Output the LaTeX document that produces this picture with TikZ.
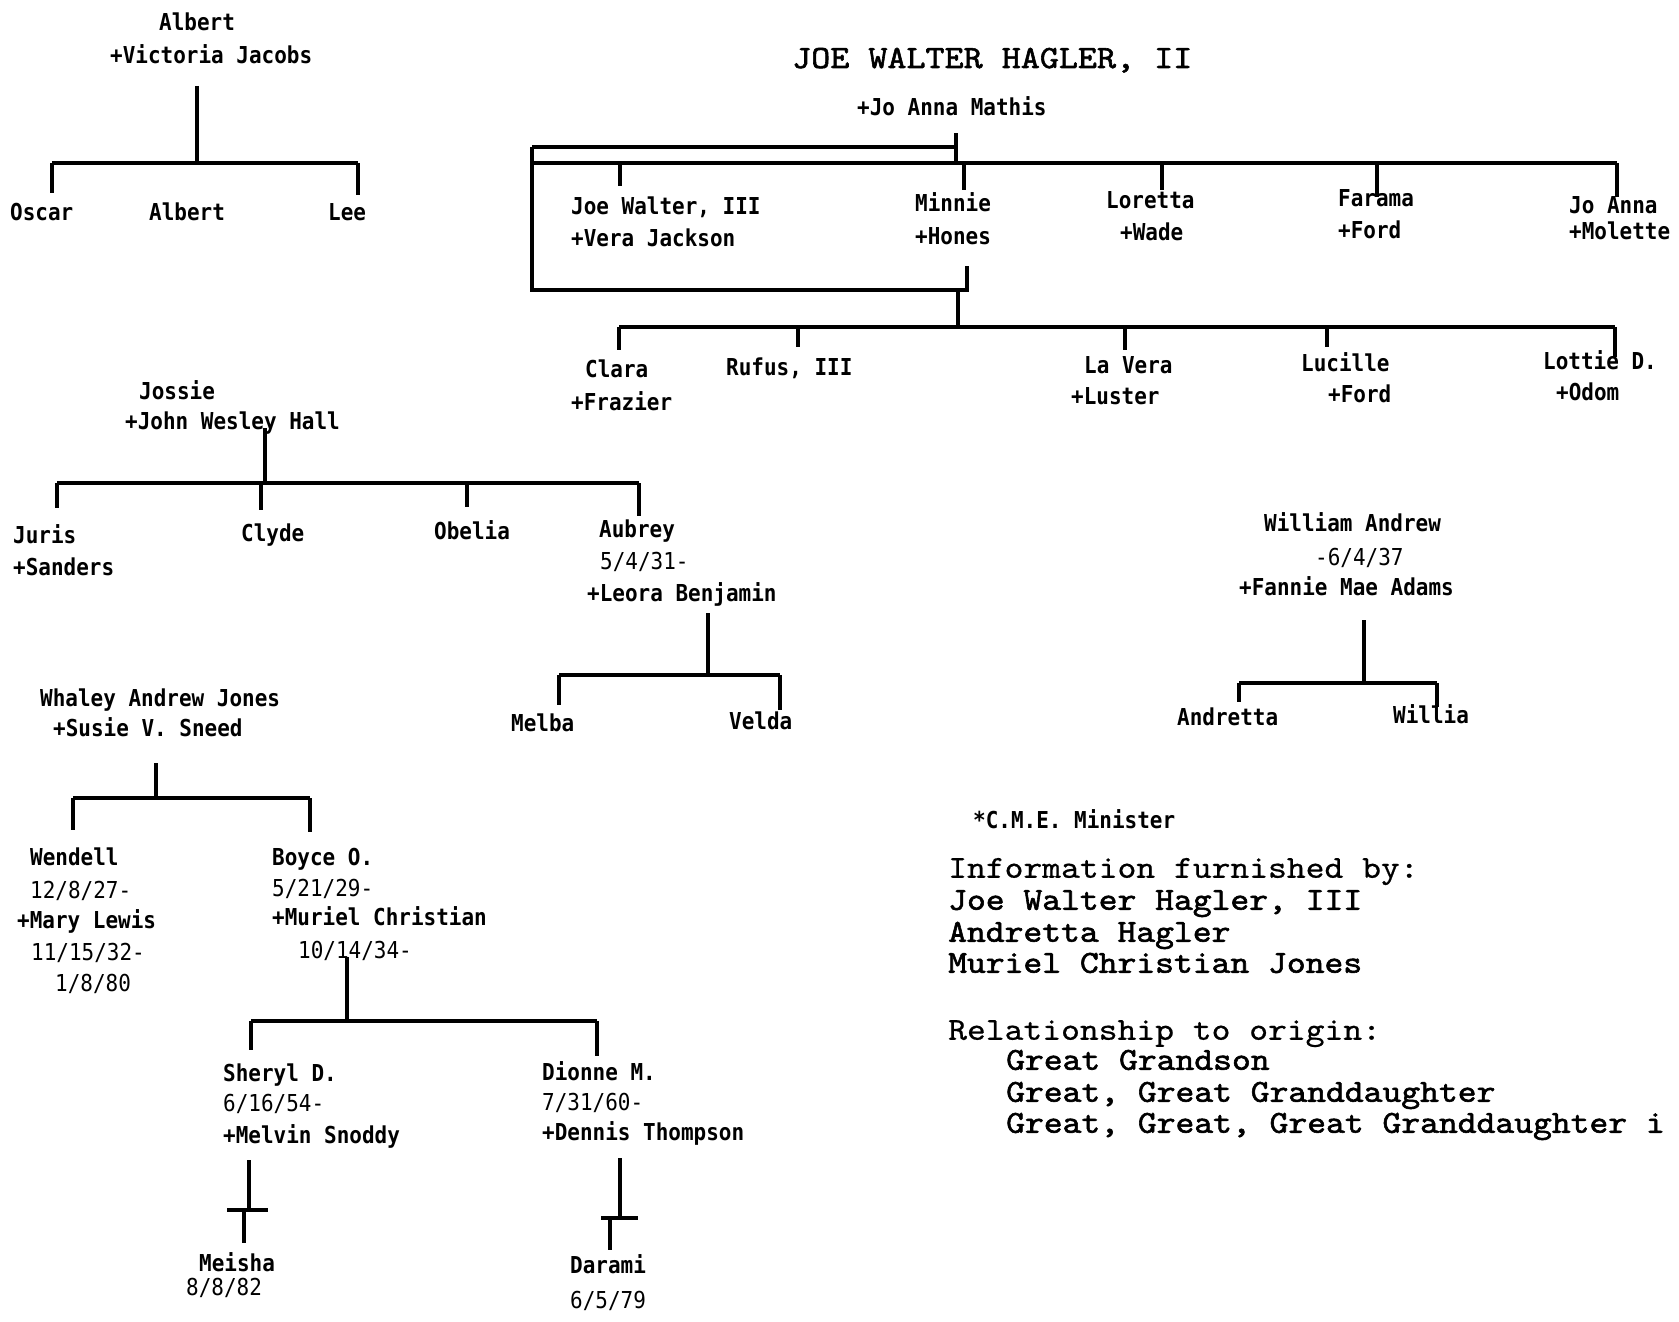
\documentclass[tikz,border=0pt]{standalone}
\usepackage{fontspec}
\newfontfamily\chartfont[FakeStretch=0.9]{DejaVu Sans Mono}
\newfontfamily\typefont{lmmono10-regular.otf}[FakeStretch=1.12, FakeBold=0.6, BoldFont=lmmono10-regular.otf, BoldFeatures={FakeBold=1.8}]
\begin{document}
\begin{tikzpicture}[x=1pt,y=-1pt,
  nm/.style={font=\chartfont\bfseries\fontsize{23.3}{31.5}\selectfont, inner sep=0pt, text height=17pt, text depth=0pt, anchor=west},
  dt/.style={font=\chartfont\fontsize{23.3}{31.5}\selectfont, inner sep=0pt, text height=17pt, text depth=0pt, anchor=west},
  ttl/.style={font=\typefont\bfseries\fontsize{32.4}{38}\selectfont, inner sep=0pt, text height=20pt, text depth=0pt, anchor=west},
  info/.style={font=\typefont\fontsize{32}{34}\selectfont, inner sep=0pt, text height=19.5pt, text depth=0pt, anchor=west},
  infob/.style={info, font=\typefont\bfseries\fontsize{32}{34}\selectfont},
  link/.style={line width=3.5pt, line cap=butt}]
\fill[white] (0,0) rectangle (1679,1322);
\useasboundingbox (0,0) rectangle (1679,1322);

% ---------- Albert + Victoria Jacobs ----------
\node[nm] (albert) at (159,22) {Albert};
\node[nm] (albertsp) at (110,55) {+Victoria Jacobs};
\node[nm] (oscar) at (10,212) {Oscar};
\node[nm] (albertjr) at (149,212) {Albert};
\node[nm] (lee) at (328,212) {Lee};
\coordinate (alb-top) at (197,86);
\coordinate (alb-j) at (197,163);
\coordinate (alb-l) at (52,163);
\coordinate (alb-r) at (358,163);
\coordinate (oscar-t) at (52,193);
\coordinate (lee-t) at (358,195);
\draw[link] (alb-top) -- (alb-j);
\draw[link] (alb-l) -- (alb-r);
\draw[link] (alb-l) -- (oscar-t);
\draw[link] (alb-r) -- (lee-t);

% ---------- Joe Walter Hagler, II ----------
\node[ttl] (jwh) at (792,58) {JOE WALTER HAGLER, II};
\node[nm] (jwhsp) at (857,107) {+Jo Anna Mathis};
\node[nm] (joe3) at (571,206) {Joe Walter, III};
\node[nm] (joe3sp) at (571,238) {+Vera Jackson};
\node[nm] (minnie) at (915,203) {Minnie};
\node[nm] (minniesp) at (915,236) {+Hones};
\node[nm] (loretta) at (1106,200) {Loretta};
\node[nm] (lorettasp) at (1120,232) {+Wade};
\node[nm] (farama) at (1338,198) {Farama};
\node[nm] (faramasp) at (1338,230) {+Ford};
\node[nm] (joanna) at (1569,205) {Jo Anna};
\node[nm] (joannasp) at (1569,231) {+Molette};

\coordinate (h-tick) at (956,133);
\coordinate (h-up-r) at (956,147);
\coordinate (h-up-l) at (532,147);
\coordinate (h-low-l) at (532,163);
\coordinate (h-low-m) at (956,163);
\coordinate (h-low-r) at (1617,163);
\coordinate (h-box-bl) at (532,290);
\coordinate (h-box-br) at (967,290);
\coordinate (h-box-t) at (967,266);
\draw[link] (h-tick) -- (h-low-m);
\draw[link] (h-up-l) -- (h-up-r);
\draw[link] (h-up-l) -- (h-box-bl) -- (h-box-br) -- (h-box-t);
\draw[link] (h-low-l) -- (h-low-r);
\foreach \cx/\cy in {620/186, 964/190, 1162/190, 1377/197, 1617/197}
  \draw[link] (\cx,163) -- (\cx,\cy);

% Minnie's children
\node[nm] (clara) at (585,369) {Clara};
\node[nm] (clarasp) at (571,402) {+Frazier};
\node[nm] (rufus) at (726,367) {Rufus, III};
\node[nm] (lavera) at (1084,365) {La Vera};
\node[nm] (laverasp) at (1071,396) {+Luster};
\node[nm] (lucille) at (1301,363) {Lucille};
\node[nm] (lucillesp) at (1328,394) {+Ford};
\node[nm] (lottie) at (1543,361) {Lottie D.};
\node[nm] (lottiesp) at (1556,392) {+Odom};
\coordinate (m-top) at (958,290);
\coordinate (m-j) at (958,327);
\coordinate (m-l) at (619,327);
\coordinate (m-r) at (1615,327);
\draw[link] (m-top) -- (m-j);
\draw[link] (m-l) -- (m-r);
\foreach \cx/\cy in {619/350, 798/347, 1125/350, 1327/347, 1615/357}
  \draw[link] (\cx,327) -- (\cx,\cy);

% ---------- Jossie + John Wesley Hall ----------
\node[nm] (jossie) at (139,391) {Jossie};
\node[nm] (jossiesp) at (125,421) {+John Wesley Hall};
\node[nm] (juris) at (13,535) {Juris};
\node[nm] (jurissp) at (13,567) {+Sanders};
\node[nm] (clyde) at (241,533) {Clyde};
\node[nm] (obelia) at (434,531) {Obelia};
\node[nm] (aubrey) at (599,529) {Aubrey};
\node[dt] (aubreyd) at (600,561) {5/4/31-};
\node[nm] (aubreysp) at (587,593) {+Leora Benjamin};
\coordinate (j-top) at (265,428);
\coordinate (j-j) at (265,483);
\coordinate (j-l) at (57,483);
\coordinate (j-r) at (639,483);
\draw[link] (j-top) -- (j-j);
\draw[link] (j-l) -- (j-r);
\foreach \cx/\cy in {57/508, 261/510, 467/507, 639/516}
  \draw[link] (\cx,483) -- (\cx,\cy);

\node[nm] (melba) at (511,723) {Melba};
\node[nm] (velda) at (729,721) {Velda};
\coordinate (a-top) at (708,613);
\coordinate (a-j) at (708,675);
\coordinate (a-l) at (559,675);
\coordinate (a-r) at (780,675);
\draw[link] (a-top) -- (a-j);
\draw[link] (a-l) -- (a-r);
\draw[link] (a-l) -- (559,705);
\draw[link] (a-r) -- (780,710);

% ---------- Whaley Andrew Jones + Susie V. Sneed ----------
\node[nm] (whaley) at (40,698) {Whaley Andrew Jones};
\node[nm] (whaleysp) at (53,728) {+Susie V. Sneed};
\node[nm] (wendell) at (30,857) {Wendell};
\node[dt] (wendelld) at (30,890) {12/8/27-};
\node[nm] (wendellsp) at (17,920) {+Mary Lewis};
\node[dt] (wendellspd) at (31,952) {11/15/32-};
\node[dt] (wendellspd2) at (55,983) {1/8/80};
\node[nm] (boyce) at (272,857) {Boyce O.};
\node[dt] (boyced) at (272,888) {5/21/29-};
\node[nm] (boycesp) at (272,917) {+Muriel Christian};
\node[dt] (boycespd) at (298,950) {10/14/34-};
\coordinate (w-top) at (156,763);
\coordinate (w-j) at (156,798);
\coordinate (w-l) at (73,798);
\coordinate (w-r) at (310,798);
\draw[link] (w-top) -- (w-j);
\draw[link] (w-l) -- (w-r);
\draw[link] (w-l) -- (73,830);
\draw[link] (w-r) -- (310,832);

\node[nm] (sheryl) at (223,1073) {Sheryl D.};
\node[dt] (sheryld) at (223,1103) {6/16/54-};
\node[nm] (sherylsp) at (223,1135) {+Melvin Snoddy};
\node[nm] (dionne) at (542,1072) {Dionne M.};
\node[dt] (dionned) at (542,1102) {7/31/60-};
\node[nm] (dionnesp) at (542,1132) {+Dennis Thompson};
\coordinate (b-top) at (347,957);
\coordinate (b-j) at (347,1021);
\coordinate (b-l) at (251,1021);
\coordinate (b-r) at (597,1021);
\draw[link] (b-top) -- (b-j);
\draw[link] (b-l) -- (b-r);
\draw[link] (b-l) -- (251,1050);
\draw[link] (b-r) -- (597,1056);

\node[nm] (meisha) at (199,1263) {Meisha};
\node[dt] (meishad) at (186,1287) {8/8/82};
\coordinate (s-top) at (249,1160);
\coordinate (s-x) at (249,1210);
\draw[link] (s-top) -- (s-x);
\draw[link] (227,1210) -- (268,1210);
\draw[link] (244,1210) -- (244,1243);

\node[nm] (darami) at (570,1265) {Darami};
\node[dt] (daramid) at (570,1300) {6/5/79};
\coordinate (d-top) at (620,1158);
\coordinate (d-x) at (620,1218);
\draw[link] (d-top) -- (d-x);
\draw[link] (601,1218) -- (638,1218);
\draw[link] (610,1218) -- (610,1250);

% ---------- William Andrew + Fannie Mae Adams ----------
\node[nm] (william) at (1264,523) {William Andrew};
\node[dt] (williamd) at (1315,557) {-6/4/37};
\node[nm] (williamsp) at (1239,587) {+Fannie Mae Adams};
\node[nm] (andretta) at (1177,717) {Andretta};
\node[nm] (willia) at (1393,715) {Willia};
\coordinate (wa-top) at (1364,620);
\coordinate (wa-j) at (1364,683);
\coordinate (wa-l) at (1239,683);
\coordinate (wa-r) at (1437,683);
\draw[link] (wa-top) -- (wa-j);
\draw[link] (wa-l) -- (wa-r);
\draw[link] (wa-l) -- (1239,702);
\draw[link] (wa-r) -- (1437,707);

% ---------- Notes ----------
\node[nm] (cme) at (973,820) {*C.M.E. Minister};
\node[info] (inf1) at (948,868) {Information furnished by:};
\node[infob] (inf2) at (948,900) {Joe Walter Hagler, III};
\node[infob] (inf3) at (948,932) {Andretta Hagler};
\node[infob] (inf4) at (948,963) {Muriel Christian Jones};
\node[info] (rel1) at (948,1030) {Relationship to origin:};
\node[infob] (rel2) at (1006,1060) {Great Grandson};
\node[infob] (rel3) at (1006,1092) {Great, Great Granddaughter};
\node[infob] (rel4) at (1006,1123) {Great, Great, Great Granddaughter i};
\end{tikzpicture}
\end{document}
